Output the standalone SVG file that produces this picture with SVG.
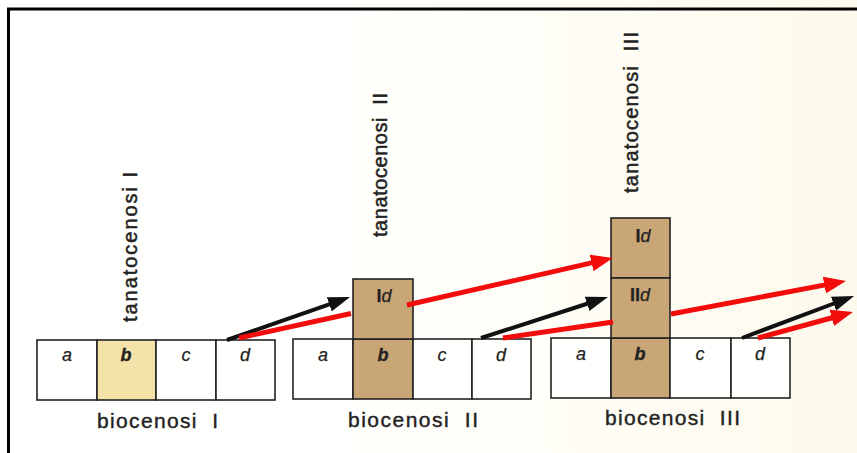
<svg xmlns="http://www.w3.org/2000/svg" width="857" height="453" viewBox="0 0 857 453">
<defs>
<linearGradient id="bg" x1="0" y1="0" x2="1" y2="0">
<stop offset="0" stop-color="#ffffff"/>
<stop offset="0.4" stop-color="#fffffd"/>
<stop offset="1" stop-color="#fdfaec"/>
</linearGradient>
<marker id="ak" markerUnits="userSpaceOnUse" markerWidth="22" markerHeight="15" viewBox="0 0 22 15" refX="9" refY="7.5" orient="auto">
<path d="M0,0 L22,7.5 L0,15 z" fill="#111"/>
</marker>
<marker id="ar" markerUnits="userSpaceOnUse" markerWidth="22" markerHeight="17" viewBox="0 0 22 17" refX="9" refY="8.5" orient="auto">
<path d="M0,0 L22,8.5 L0,17 z" fill="#f20c0c"/>
</marker>
</defs>
<style>
.cell{stroke:#222;stroke-width:1.6;fill:#fffffd}
.tan{fill:#c9a676}
.yel{fill:#f4e3a8}
.lbl{font-family:"Liberation Sans",Arial,sans-serif;font-style:italic;font-size:18px;fill:#222;stroke:#222;stroke-width:0.25;text-anchor:middle}
.lblb{font-weight:bold;stroke-width:0.3}
.cap{font-family:"Liberation Sans",Arial,sans-serif;font-size:21px;fill:#222;stroke:#222;stroke-width:0.4}
.vert{font-family:"Liberation Sans",Arial,sans-serif;font-size:20px;fill:#222;stroke:#222;stroke-width:0.5}
.blk{stroke:#111;stroke-width:4;fill:none;marker-end:url(#ak)}
.red{stroke:#f20c0c;stroke-width:5;fill:none}
.reda{stroke:#f20c0c;stroke-width:5;fill:none;marker-end:url(#ar)}
</style>
<rect x="0" y="0" width="857" height="453" fill="url(#bg)"/>
<path d="M8.5,453 L8.5,9 L857,9" fill="none" stroke="#000" stroke-width="3"/>

<g id="biocenosi-I">
<rect class="cell" x="37" y="340" width="60" height="60"/>
<rect class="cell yel" x="97" y="340" width="59" height="60"/>
<rect class="cell" x="156" y="340" width="60" height="60"/>
<rect class="cell" x="216" y="340" width="59" height="60"/>
<text class="lbl" x="67" y="361">a</text>
<text class="lbl lblb" x="126" y="361">b</text>
<text class="lbl" x="186" y="361">c</text>
<text class="lbl" x="245" y="361">d</text>
<text class="cap" x="97" y="428" textLength="121" xml:space="preserve">biocenosi  I</text>
</g>
<g id="tanatocenosi-I">
<text class="vert" transform="translate(137,322) rotate(-90)" textLength="150" xml:space="preserve">tanatocenosi I</text>
</g>

<g id="biocenosi-II">
<rect class="cell" x="293" y="339" width="60" height="60"/>
<rect class="cell tan" x="353" y="339" width="60" height="60"/>
<rect class="cell" x="413" y="339" width="59" height="60"/>
<rect class="cell" x="472" y="339" width="59" height="60"/>
<text class="lbl" x="323" y="361">a</text>
<text class="lbl lblb" x="383" y="361">b</text>
<text class="lbl" x="442" y="361">c</text>
<text class="lbl" x="501" y="361">d</text>
<text class="cap" x="348" y="427" textLength="130" xml:space="preserve">biocenosi  II</text>
</g>
<g id="tanatocenosi-II">
<rect class="cell tan" x="353" y="279" width="60" height="60"/>
<text class="lbl" x="384" y="302"><tspan font-style="normal" font-weight="bold">I</tspan><tspan>d</tspan></text>
<text class="vert" transform="translate(387,237) rotate(-90)" textLength="144" xml:space="preserve">tanatocenosi  II</text>
</g>

<g id="biocenosi-III">
<rect class="cell" x="551" y="338" width="60" height="60"/>
<rect class="cell tan" x="611" y="338" width="59" height="60"/>
<rect class="cell" x="670" y="338" width="61" height="60"/>
<rect class="cell" x="731" y="338" width="59" height="60"/>
<text class="lbl" x="581" y="360">a</text>
<text class="lbl lblb" x="640" y="360">b</text>
<text class="lbl" x="700" y="360">c</text>
<text class="lbl" x="760" y="360">d</text>
<text class="cap" x="605" y="425" textLength="135" xml:space="preserve">biocenosi  III</text>
</g>
<g id="tanatocenosi-III">
<rect class="cell tan" x="611" y="218" width="59" height="60"/>
<rect class="cell tan" x="611" y="278" width="59" height="60"/>
<text class="lbl" x="643" y="242"><tspan font-style="normal" font-weight="bold">I</tspan><tspan>d</tspan></text>
<text class="lbl" x="640" y="301"><tspan font-style="normal" font-weight="bold">II</tspan><tspan>d</tspan></text>
<text class="vert" transform="translate(638,193) rotate(-90)" font-size="22" stroke-width="0.8" textLength="161" xml:space="preserve">tanatocenosi  III</text>
</g>

<g id="connectors">
<line class="blk" x1="227" y1="340" x2="337.8" y2="301.3"/>
<line class="red" x1="239" y1="338" x2="351" y2="313.5"/>
<line class="reda" x1="407" y1="305" x2="600.3" y2="260.9"/>
<line class="blk" x1="481" y1="338" x2="595.6" y2="301"/>
<line class="red" x1="503" y1="338" x2="613" y2="322"/>
<line class="reda" x1="671" y1="314" x2="833.2" y2="283.4"/>
<line class="blk" x1="742" y1="338" x2="841.9" y2="300.5"/>
<line class="reda" x1="758" y1="338" x2="840.4" y2="315.5"/>
</g>
</svg>
